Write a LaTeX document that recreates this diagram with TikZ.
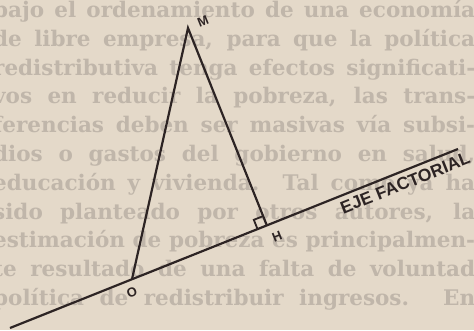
\documentclass[tikz,border=0pt]{standalone}
\usepackage{fontspec}
\setmainfont{DejaVu Serif}
\newfontfamily\labelfont{Liberation Sans}
\usetikzlibrary{calc}
\definecolor{paper}{RGB}{228,217,201}
\definecolor{ghost}{RGB}{192,182,170}
\definecolor{ink}{RGB}{45,36,36}
\begin{document}
\begin{tikzpicture}[x=1pt,y=-1pt,
  bodytext/.style={anchor=base west, inner sep=0pt, text=ghost, font=\bfseries\fontsize{21.5}{26}\selectfont},
  axisline/.style={draw=ink, line width=2.2pt},
  ptlabel/.style={text=ink, font=\labelfont\bfseries\fontsize{13}{13}\selectfont, rotate=21.8, inner sep=0pt},
  axislabel/.style={text=ink, font=\labelfont\bfseries\fontsize{17.5}{18}\selectfont, rotate=21.8, inner sep=0pt}
]
\fill[paper] (0,0) rectangle (474,330);
\useasboundingbox (0,0) rectangle (474,330);
% show-through page text
\node[bodytext] (t1) at (-7,17.5) {\makebox[482pt][s]{bajo el ordenamiento de una economía}};
\node[bodytext] (t2) at (-7,46.3) {\makebox[482pt][s]{de libre empresa, para que la política}};
\node[bodytext] (t3) at (-7,75.1) {\makebox[482pt][s]{redistributiva tenga efectos significati-}};
\node[bodytext] (t4) at (-7,103.9) {\makebox[482pt][s]{vos en reducir la pobreza, las trans-}};
\node[bodytext] (t5) at (-7,132.7) {\makebox[482pt][s]{ferencias deben ser masivas vía subsi-}};
\node[bodytext] (t6) at (-7,161.5) {\makebox[482pt][s]{dios o gastos del gobierno en salud,}};
\node[bodytext] (t7) at (-7,190.3) {\makebox[482pt][s]{educación y vivienda. Tal como ya ha}};
\node[bodytext] (t8) at (-7,219.1) {\makebox[482pt][s]{sido planteado por otros autores, la}};
\node[bodytext] (t9) at (-7,247.9) {\makebox[482pt][s]{estimación de pobreza es principalmen-}};
\node[bodytext] (t10) at (-7,276.7) {\makebox[482pt][s]{te resultado de una falta de voluntad}};
\node[bodytext] (t11) at (-7,305.5) {\makebox[482pt][s]{política de redistribuir ingresos. En}};
% diagram
\coordinate (A) at (10,328);
\coordinate (B) at (458,149);
\coordinate (O) at ($(A)!0.2723!(B)$);
\coordinate (M) at (188,28);
\coordinate (H) at ($(A)!(M)!(B)$);
\draw[axisline] (A) -- (B);
\draw[axisline, line join=miter] (O) -- (M) -- (H);
\coordinate (ra) at ($(H)!10pt!(O)$);
\coordinate (rb) at ($(H)!10pt!(M)$);
\draw[draw=ink, line width=1.8pt] (ra) -- ($(ra)+(rb)-(H)$) -- (rb);
\node[ptlabel] (Ml) at (203,21) {M};
\node[ptlabel] (Hl) at (277,237) {H};
\node[ptlabel] (Ol) at (132,292) {O};
\node[axislabel] (eje) at (405,183) {EJE FACTORIAL};
\end{tikzpicture}
\end{document}
